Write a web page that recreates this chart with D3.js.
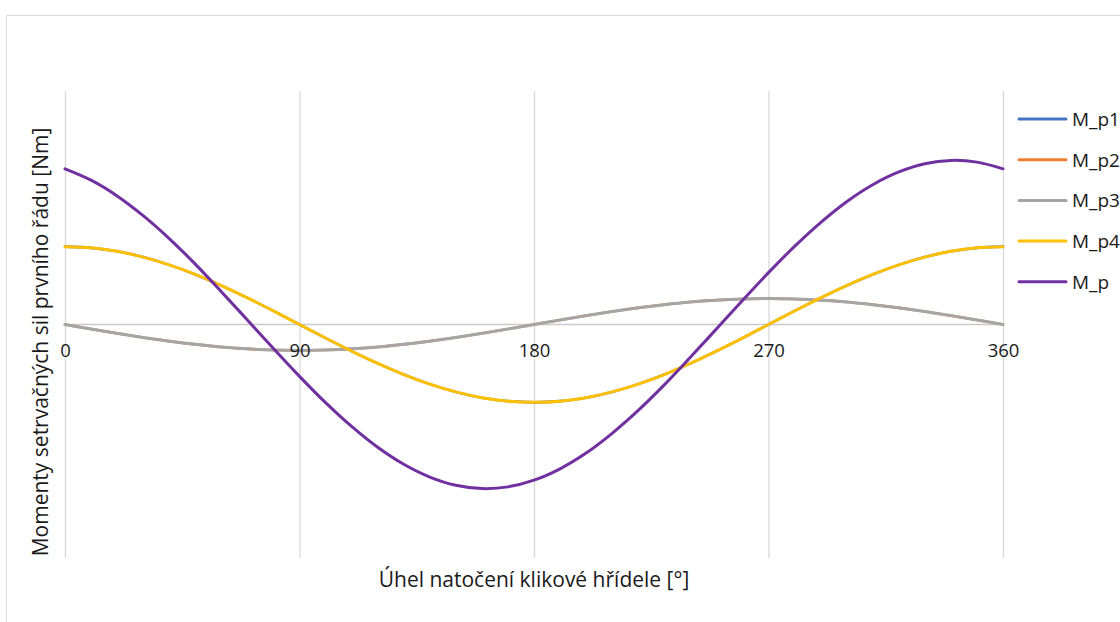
<!DOCTYPE html>
<html>
<head>
<meta charset="utf-8">
<script src="https://cdn.jsdelivr.net/npm/d3@7/dist/d3.min.js"></script>
<style>
  html, body { margin: 0; padding: 0; background: #fff; }
  svg { display: block; }
  text { font-family: "Open Sans", "Noto Sans", sans-serif; fill: #1a1a1a; }
</style>
</head>
<body>
<svg id="chart" width="1120" height="622"></svg>
<script>
// Crank angle [°]
const angles = [0,10,20,30,40,50,60,70,80,90,100,110,120,130,140,150,160,170,180,
  190,200,210,220,230,240,250,260,270,280,290,300,310,320,330,340,350,360];

// First-order inertia moments of the individual cylinders
const mp1 = [1,0.985,0.94,0.866,0.766,0.643,0.5,0.342,0.174,0,-0.174,-0.342,-0.5,-0.643,-0.766,-0.866,-0.94,-0.985,-1,
  -0.985,-0.94,-0.866,-0.766,-0.643,-0.5,-0.342,-0.174,0,0.174,0.342,0.5,0.643,0.766,0.866,0.94,0.985,1];
const mp2 = [0,-0.058,-0.114,-0.167,-0.214,-0.255,-0.289,-0.313,-0.328,-0.333,-0.328,-0.313,-0.289,-0.255,-0.214,-0.167,-0.114,-0.058,0,
  0.058,0.114,0.167,0.214,0.255,0.289,0.313,0.328,0.333,0.328,0.313,0.289,0.255,0.214,0.167,0.114,0.058,0];
const mp3 = [0,-0.058,-0.114,-0.167,-0.214,-0.255,-0.289,-0.313,-0.328,-0.333,-0.328,-0.313,-0.289,-0.255,-0.214,-0.167,-0.114,-0.058,0,
  0.058,0.114,0.167,0.214,0.255,0.289,0.313,0.328,0.333,0.328,0.313,0.289,0.255,0.214,0.167,0.114,0.058,0];
const mp4 = [1,0.985,0.94,0.866,0.766,0.643,0.5,0.342,0.174,0,-0.174,-0.342,-0.5,-0.643,-0.766,-0.866,-0.94,-0.985,-1,
  -0.985,-0.94,-0.866,-0.766,-0.643,-0.5,-0.342,-0.174,0,0.174,0.342,0.5,0.643,0.766,0.866,0.94,0.985,1];
// Resulting moment
const mp = [2,1.854,1.652,1.398,1.104,0.776,0.422,0.058,-0.308,-0.666,-1.004,-1.31,-1.578,-1.796,-1.96,-2.066,-2.108,-2.086,-2,
  -1.854,-1.652,-1.398,-1.104,-0.776,-0.422,-0.058,0.308,0.666,1.004,1.31,1.578,1.796,1.96,2.066,2.108,2.086,2];

const xTicks = [0, 90, 180, 270, 360];
const seriesNames = ["M_p1", "M_p2", "M_p3", "M_p4", "M_p"];
const seriesColors = ["#4472C4", "#ED7D31", "#A5A5A5", "#FFC000", "#7030A0"];
const seriesValues = [mp1, mp2, mp3, mp4, mp];

const svg = d3.select("#chart");

// Chart frame
svg.append("rect")
  .attr("x", 6.5).attr("y", 15.5)
  .attr("width", 1130).attr("height", 640)
  .attr("fill", "#fff").attr("stroke", "#d9d9d9").attr("stroke-width", 1);

const x = d3.scaleLinear().domain([0, 360]).range([65, 1003]);
const y = d3.scaleLinear().domain([-3, 3]).range([558, 91]);

// Vertical gridlines
svg.append("g")
  .selectAll("line")
  .data(xTicks)
  .join("line")
  .attr("x1", d => x(d) + 0.5).attr("x2", d => x(d) + 0.5)
  .attr("y1", y(3)).attr("y2", y(-3))
  .attr("stroke", "#d9d9d9").attr("stroke-width", 1.3);

// Horizontal axis through zero (line below the series, labels above them)
const xAxis = d3.axisBottom(x).tickValues(xTicks).tickSize(0).tickPadding(19)
  .tickFormat(d3.format("d"));
const gx = svg.append("g").attr("transform", `translate(0,${y(0)})`).call(xAxis);
gx.select(".domain").attr("stroke", "#c9c9c9").attr("stroke-width", 1.6);
gx.selectAll("text")
  .style("font-family", '"Open Sans", "Noto Sans", sans-serif')
  .style("font-size", "18.5px").attr("fill", "#1a1a1a");

// Series lines
const line = d3.line()
  .x((d, i) => x(angles[i]))
  .y(d => y(d))
  .curve(d3.curveCatmullRom);

svg.append("g")
  .selectAll("path")
  .data(seriesValues)
  .join("path")
  .attr("d", d => line(d))
  .attr("fill", "none")
  .attr("stroke", (d, i) => seriesColors[i])
  .attr("stroke-width", (d, i) => i < 2 ? 2.6 : 3)
  .attr("stroke-linecap", "round");

// Tick labels on top of the lines
svg.node().appendChild(gx.node());
gx.select(".domain").remove();
svg.insert("line", "g")
  .attr("x1", x(0)).attr("x2", x(360))
  .attr("y1", y(0)).attr("y2", y(0))
  .attr("stroke", "#c9c9c9").attr("stroke-width", 1.6);
// keep the frame beneath the zero line
svg.node().insertBefore(svg.select("rect").node(), svg.node().firstChild);

// Axis titles
svg.append("text")
  .attr("x", 534).attr("y", 587)
  .attr("text-anchor", "middle")
  .style("font-size", "21px")
  .text("Úhel natočení klikové hřídele [°]");

svg.append("text")
  .attr("transform", "translate(48,342) rotate(-90)")
  .attr("text-anchor", "middle")
  .style("font-size", "21px")
  .text("Momenty setrvačných sil prvního řádu [Nm]");

// Legend
const legend = svg.append("g")
  .selectAll("g")
  .data(seriesNames)
  .join("g")
  .attr("transform", (d, i) => `translate(1019,${119 + i * 40.7})`);
legend.append("line")
  .attr("x1", 0).attr("x2", 47)
  .attr("stroke", (d, i) => seriesColors[i])
  .attr("stroke-width", 3).attr("stroke-linecap", "round");
legend.append("text")
  .attr("x", 53).attr("y", 7)
  .style("font-size", "19px")
  .text(d => d);
</script>
</body>
</html>
